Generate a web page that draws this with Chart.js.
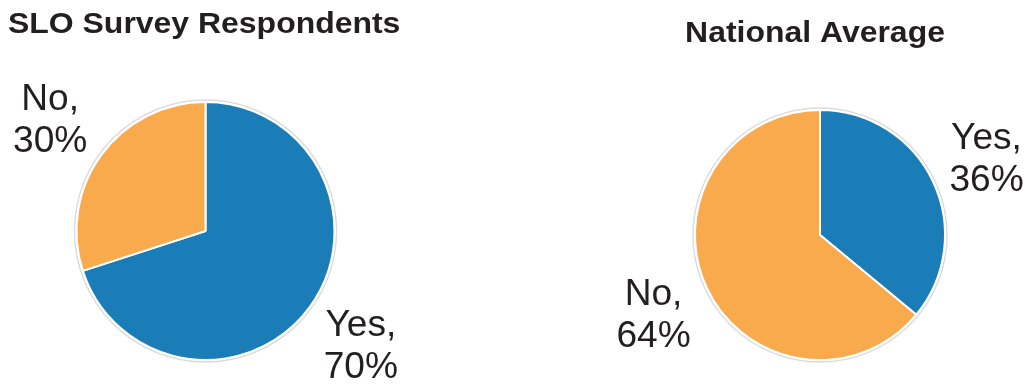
<!DOCTYPE html>
<html>
<head>
<meta charset="utf-8">
<script src="https://cdn.jsdelivr.net/npm/chart.js@4/dist/chart.umd.min.js"></script>
<style>
  html, body { margin: 0; padding: 0; background: #fff; }
  .wrap { position: relative; width: 1026px; height: 385px; }
  .wrap canvas { position: absolute; left: 0; top: 0; }
</style>
</head>
<body>
<div class="wrap">
  <canvas id="pie_slo" width="1026" height="385"></canvas>
  <canvas id="pie_nat" width="1026" height="385"></canvas>
</div>
<script>
// data
var categories = ['Yes', 'No'];
var slo_values = [70, 30];
var national_values = [36, 64];
var titles = ['SLO Survey Respondents', 'National Average'];
var colors = ['#1a7db8', '#f8aa4c'];

var textColor = '#231f20';

// draws the title + the "Yes,\n70%" style labels outside the pie
var labelPlugin = {
    id: 'outsideLabels',
    beforeDatasetsDraw: function(chart) {
        var ctx = chart.ctx;
        var arc = chart.getDatasetMeta(0).data[0];
        ctx.save();
        ctx.beginPath();
        ctx.arc(arc.x, arc.y, arc.outerRadius + 2, 0, Math.PI * 2);
        ctx.strokeStyle = 'rgba(0,0,0,0.14)';
        ctx.lineWidth = 1.5;
        ctx.stroke();
        ctx.restore();
    },
    afterDraw: function(chart) {
        var ctx = chart.ctx;
        var opts = chart.options.plugins.outsideLabels;
        var meta = chart.getDatasetMeta(0);
        var values = chart.data.datasets[0].data;
        ctx.save();
        ctx.fillStyle = textColor;

        // title (the original is a bit wider than plain Arial bold)
        ctx.save();
        ctx.font = 'bold 30px "Liberation Sans", Arial, sans-serif';
        ctx.textAlign = opts.titleAlign;
        ctx.textBaseline = 'alphabetic';
        ctx.translate(opts.titleX, opts.titleY);
        ctx.scale(1.065, 1);
        ctx.fillText(opts.title, 0, 0);
        ctx.restore();

        // slice labels
        ctx.font = '36px "Liberation Sans", Arial, sans-serif';
        ctx.textAlign = 'center';
        meta.data.forEach(function(el, i) {
            var mid = (el.startAngle + el.endAngle) / 2;
            var d = el.outerRadius + opts.offset;
            var cx = el.x + Math.cos(mid) * d;
            var cy = el.y + Math.sin(mid) * d;
            ctx.save();
            ctx.translate(cx, cy);
            ctx.scale(1.03, 1);
            ctx.fillText(chart.data.labels[i] + ',', 0, -8);
            ctx.fillText(values[i] + '%', 0, 34);
            ctx.restore();
        });
        ctx.restore();
    }
};

function makePie(id, values, padding, title, titleAlign, titleX, titleY, offset) {
    var ctx = document.getElementById(id).getContext('2d');
    return new Chart(ctx, {
        type: 'pie',
        data: {
            labels: categories,
            datasets: [{
                data: values,
                backgroundColor: colors,
                borderColor: '#ffffff',
                borderWidth: 2
            }]
        },
        options: {
            responsive: false,
            animation: false,
            layout: { padding: padding },
            plugins: {
                legend: { display: false },
                tooltip: { enabled: false },
                outsideLabels: {
                    title: title,
                    titleAlign: titleAlign,
                    titleX: titleX,
                    titleY: titleY,
                    offset: offset
                }
            }
        },
        plugins: [labelPlugin]
    });
}

makePie('pie_slo', slo_values,
    { left: 75, right: 690, top: 101, bottom: 24 },
    titles[0], 'left', 8, 33, 63);
makePie('pie_nat', national_values,
    { left: 693, right: 79, top: 109, bottom: 24 },
    titles[1], 'center', 815, 42, 59);
</script>
</body>
</html>
